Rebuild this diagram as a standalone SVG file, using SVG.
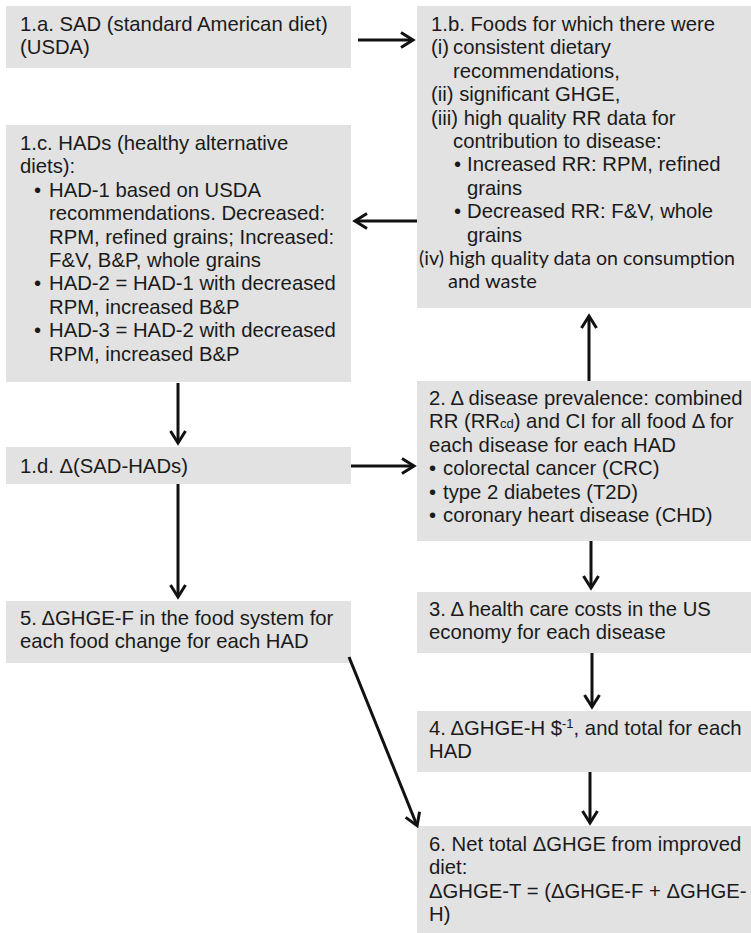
<svg xmlns="http://www.w3.org/2000/svg" width="751" height="933" viewBox="0 0 751 933">
<style>
.box{fill:#e2e2e2;stroke:none}
text{font-family:"Liberation Sans",Arial,sans-serif;font-size:20.3px;fill:#1a1a1a}
.cal{font-family:Lato,"Open Sans",sans-serif;font-size:20px}
.sm{font-size:13px}
.con{stroke:#111;stroke-width:3;fill:none;marker-end:url(#ah)}
</style>
<defs>
<marker id="ah" markerUnits="userSpaceOnUse" markerWidth="22" markerHeight="22" viewBox="0 0 22 22" refX="16" refY="11" orient="auto">
<path d="M4,3.5 L16,11 L4,18.5" fill="none" stroke="#111" stroke-width="3"/>
</marker>
</defs>
<g id="n1a">
<rect class="box" x="6" y="6" width="345" height="62"/>
<text x="20" y="31">1.a. SAD (standard American diet)</text>
<text x="20" y="54.4">(USDA)</text>
</g>
<g id="n1b">
<rect class="box" x="417" y="6" width="334" height="302"/>
<text x="431" y="31">1.b. Foods for which there were</text>
<text x="431" y="54.4">(i)</text>
<text x="453" y="54.4">consistent dietary</text>
<text x="453" y="77.8">recommendations,</text>
<text x="431" y="101.2">(ii) significant GHGE,</text>
<text x="431" y="124.6">(iii) high quality RR data for</text>
<text x="453" y="148">contribution to disease:</text>
<text x="454" y="171.4">•</text>
<text x="467" y="171.4">Increased RR: RPM, refined</text>
<text x="467" y="194.8">grains</text>
<text x="454" y="218.2">•</text>
<text x="467" y="218.2">Decreased RR: F&amp;V, whole</text>
<text x="467" y="241.6">grains</text>
<text class="cal" x="419" y="265" textLength="316" lengthAdjust="spacingAndGlyphs">(iv) high quality data on consumption</text>
<text class="cal" x="448" y="288.4">and waste</text>
</g>
<g id="n1c">
<rect class="box" x="6" y="125" width="345" height="257"/>
<text x="20" y="150">1.c. HADs (healthy alternative</text>
<text x="20" y="173.4">diets):</text>
<text x="34" y="196.8">•</text>
<text x="49" y="196.8">HAD-1 based on USDA</text>
<text x="49" y="220.2">recommendations. Decreased:</text>
<text x="49" y="243.6">RPM, refined grains; Increased:</text>
<text x="49" y="267">F&amp;V, B&amp;P, whole grains</text>
<text x="34" y="290.4">•</text>
<text x="49" y="290.4">HAD-2 = HAD-1 with decreased</text>
<text x="49" y="313.8">RPM, increased B&amp;P</text>
<text x="34" y="337.2">•</text>
<text x="49" y="337.2">HAD-3 = HAD-2 with decreased</text>
<text x="49" y="360.6">RPM, increased B&amp;P</text>
</g>
<g id="n1d">
<rect class="box" x="6" y="447" width="345" height="37"/>
<text x="20" y="473">1.d. Δ(SAD-HADs)</text>
</g>
<g id="n2">
<rect class="box" x="417" y="381" width="334" height="160"/>
<text x="429" y="405">2. Δ disease prevalence: combined</text>
<text x="429" y="428.4">RR (RR<tspan class="sm">cd</tspan>) and CI for all food Δ for</text>
<text x="429" y="451.8">each disease for each HAD</text>
<text x="429" y="475.2">•</text>
<text x="443" y="475.2">colorectal cancer (CRC)</text>
<text x="429" y="498.6">•</text>
<text x="443" y="498.6">type 2 diabetes (T2D)</text>
<text x="429" y="522">•</text>
<text x="443" y="522">coronary heart disease (CHD)</text>
</g>
<g id="n3">
<rect class="box" x="417" y="592" width="334" height="61"/>
<text x="429" y="616">3. Δ health care costs in the US</text>
<text x="429" y="639.4">economy for each disease</text>
</g>
<g id="n4">
<rect class="box" x="417" y="711" width="334" height="61"/>
<text x="429" y="735">4. ΔGHGE-H $<tspan class="sm" dy="-7">-1</tspan><tspan dy="7">, and total for each</tspan></text>
<text x="429" y="758.4">HAD</text>
</g>
<g id="n5">
<rect class="box" x="6" y="601" width="345" height="62"/>
<text x="20" y="625">5. ΔGHGE-F in the food system for</text>
<text x="20" y="648.4">each food change for each HAD</text>
</g>
<g id="n6">
<rect class="box" x="417" y="826" width="334" height="107"/>
<text x="429" y="851">6. Net total ΔGHGE from improved</text>
<text x="429" y="874.4">diet:</text>
<text x="429" y="897.8">ΔGHGE-T = (ΔGHGE-F + ΔGHGE-</text>
<text x="429" y="921.2">H)</text>
</g>
<g id="connectors">
<path class="con" d="M358,40 H413"/>
<path class="con" d="M417,221 H355"/>
<path class="con" d="M178,383 V443"/>
<path class="con" d="M351,466 H414"/>
<path class="con" d="M178,484 V597"/>
<path class="con" d="M589,381 V316"/>
<path class="con" d="M591,541 V588"/>
<path class="con" d="M592,653 V707"/>
<path class="con" d="M590,772 V823"/>
<path class="con" d="M349,657 L417.1,825.7"/>
</g>
</svg>
